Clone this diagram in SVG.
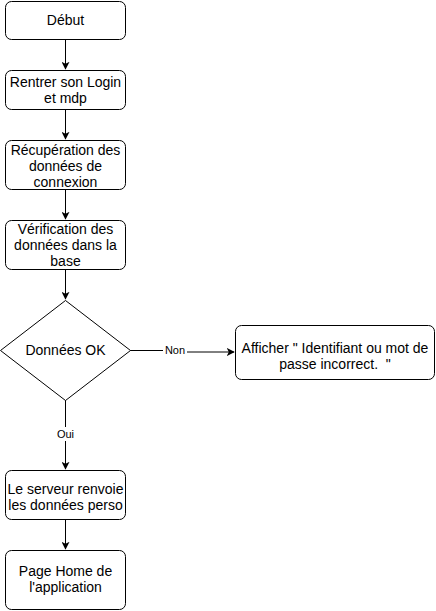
<svg xmlns="http://www.w3.org/2000/svg" width="436" height="611" viewBox="0 0 436 611">
<defs>
<style>
.n{fill:#fff;stroke:#000;stroke-width:1}
.t{font-family:"Liberation Sans",Arial,Helvetica,sans-serif;font-size:14px;fill:#000;text-anchor:middle}
.l{font-family:"Liberation Sans",Arial,Helvetica,sans-serif;font-size:11px;fill:#000;text-anchor:middle}
.e{fill:none;stroke:#000;stroke-width:1}
</style>
<marker id="a" viewBox="0 0 10 10" refX="9" refY="5" markerWidth="8" markerHeight="8" markerUnits="userSpaceOnUse" orient="auto">
<path d="M0,0 L10,5 L0,10 L2.5,5 Z" fill="#000"/>
</marker>
</defs>
<rect width="436" height="611" fill="#fff"/>
<g id="connectors">
<path class="e" d="M65.5,40 V69" marker-end="url(#a)"/>
<path class="e" d="M65.5,110 V139" marker-end="url(#a)"/>
<path class="e" d="M65.5,190 V219" marker-end="url(#a)"/>
<path class="e" d="M65.5,270 V299" marker-end="url(#a)"/>
<path class="e" d="M65.5,400 V469" marker-end="url(#a)"/>
<path class="e" d="M65.5,520 V549" marker-end="url(#a)"/>
<path class="e" d="M130,350.5 L163,350.5 L187,352 L234,352" marker-end="url(#a)"/>
<rect x="163" y="343" width="24" height="14" fill="#fff"/>
<text class="l" x="175" y="354">Non</text>
<rect x="56" y="427" width="19" height="14" fill="#fff"/>
<text class="l" x="65.5" y="438">Oui</text>
</g>
<g id="debut">
<rect class="n" x="5.5" y="1.5" width="120" height="38" rx="6"/>
<text class="t" x="65.5" y="25">Début</text>
</g>
<g id="login">
<rect class="n" x="5.5" y="70.5" width="120" height="39" rx="6"/>
<text class="t" x="65.5" y="87">Rentrer son Login</text>
<text class="t" x="65.5" y="103">et mdp</text>
</g>
<g id="recup">
<rect class="n" x="5.5" y="140.5" width="120" height="49" rx="6"/>
<text class="t" x="65.5" y="155">Récupération des</text>
<text class="t" x="65.5" y="171">données de</text>
<text class="t" x="65.5" y="187">connexion</text>
</g>
<g id="verif">
<rect class="n" x="5.5" y="220.5" width="120" height="49" rx="6"/>
<text class="t" x="65.5" y="234">Vérification des</text>
<text class="t" x="65.5" y="250">données dans la</text>
<text class="t" x="65.5" y="266">base</text>
</g>
<g id="decision">
<path class="n" d="M65.5,300.5 L130.5,350.5 L65.5,400.5 L0.5,350.5 Z"/>
<text class="t" x="65.5" y="355">Données OK</text>
</g>
<g id="erreur">
<rect class="n" x="235.5" y="325.5" width="199" height="54" rx="6"/>
<text class="t" x="335" y="353">Afficher " Identifiant ou mot de</text>
<text class="t" x="335" y="369" xml:space="preserve">passe incorrect.  "</text>
</g>
<g id="serveur">
<rect class="n" x="5.5" y="470.5" width="120" height="49" rx="6"/>
<text class="t" x="65.5" y="494">Le serveur renvoie</text>
<text class="t" x="65.5" y="510">les données perso</text>
</g>
<g id="home">
<rect class="n" x="5.5" y="550.5" width="120" height="59" rx="6"/>
<text class="t" x="65.5" y="576">Page Home de</text>
<text class="t" x="65.5" y="592">l'application</text>
</g>
</svg>
